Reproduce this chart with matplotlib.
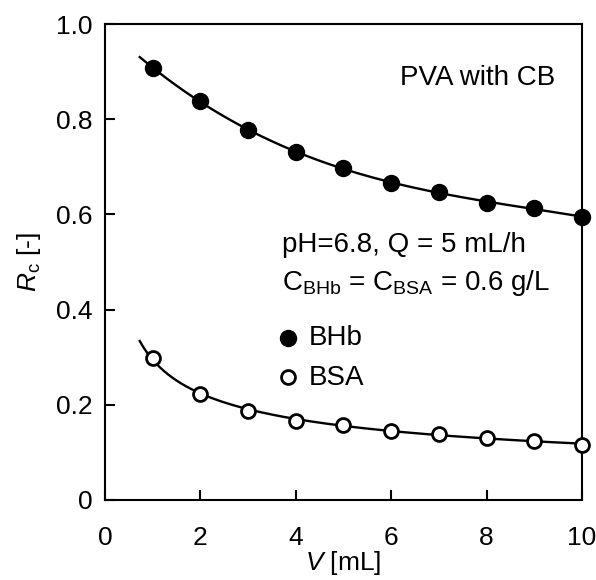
import numpy as np
import matplotlib
matplotlib.use("Agg")
import matplotlib.pyplot as plt

plt.rcParams['font.family'] = ['Liberation Sans', 'DejaVu Sans']
plt.rcParams['mathtext.fontset'] = 'custom'
plt.rcParams['mathtext.rm'] = 'Liberation Sans'
plt.rcParams['mathtext.it'] = 'Liberation Sans:italic'

# data
V = [1, 2, 3, 4, 5, 6, 7, 8, 9, 10]
rc_bhb = [0.908, 0.838, 0.777, 0.731, 0.697, 0.667, 0.647, 0.624, 0.613, 0.595]
rc_bsa = [0.299, 0.223, 0.187, 0.166, 0.158, 0.145, 0.139, 0.131, 0.124, 0.116]

xticks = [0, 2, 4, 6, 8, 10]
yticks = [0, 0.2, 0.4, 0.6, 0.8, 1.0]
ytick_labels = ["0", "0.2", "0.4", "0.6", "0.8", "1.0"]

fig = plt.figure(figsize=(5.96, 5.80), dpi=100)
ax = fig.add_axes([0.176, 0.138, 0.8005, 0.8206])

# smooth fitted curves
xv = np.array(V, dtype=float)
xf = np.linspace(0.73, 10, 200)
p1 = np.polyfit(xv, np.array(rc_bhb), 3)
ax.plot(xf, np.polyval(p1, xf), color='black', lw=1.7, zorder=2)
p2 = np.polyfit(np.log(xv), np.log(rc_bsa), 1)  # power law
ax.plot(xf, np.exp(np.polyval(p2, np.log(xf))), color='black', lw=1.7, zorder=2)

ax.plot(V, rc_bhb, 'o', ms=11.5, color='black', mec='black', clip_on=False, zorder=3)
ax.plot(V, rc_bsa, 'o', ms=10, mfc='white', mec='black', mew=2, clip_on=False, zorder=3)

ax.set_xlim(0, 10)
ax.set_ylim(0, 1.0)
ax.set_xticks(xticks)
ax.set_yticks(yticks)
ax.set_yticklabels(ytick_labels)
ax.tick_params(direction='in', length=7, width=1.5, labelsize=19)
ax.tick_params(axis='x', pad=19)
ax.tick_params(axis='y', pad=9)
for s in ax.spines.values():
    s.set_linewidth(1.5)

ax.set_xlabel(r'$V$ [mL]', fontsize=19, labelpad=-1)
ax.set_ylabel(r'$R_{\mathrm{c}}$ [-]', fontsize=19, labelpad=9)

fs = 20
ax.text(9.43, 0.872, 'PVA with CB', ha='right', va='baseline', fontsize=fs)
ax.text(3.71, 0.521, 'pH=6.8, Q = 5 mL/h', ha='left', va='baseline', fontsize=fs)
ax.text(3.71, 0.441, r'C$_{\mathrm{BHb}}$ = C$_{\mathrm{BSA}}$ = 0.6 g/L',
        ha='left', va='baseline', fontsize=fs)

ax.plot([3.84], [0.340], 'o', ms=11.5, color='black')
ax.text(4.28, 0.326, 'BHb', ha='left', va='baseline', fontsize=fs)
ax.plot([3.84], [0.258], 'o', ms=10, mfc='white', mec='black', mew=2)
ax.text(4.28, 0.242, 'BSA', ha='left', va='baseline', fontsize=fs)

fig.savefig('out.png', dpi=100)
